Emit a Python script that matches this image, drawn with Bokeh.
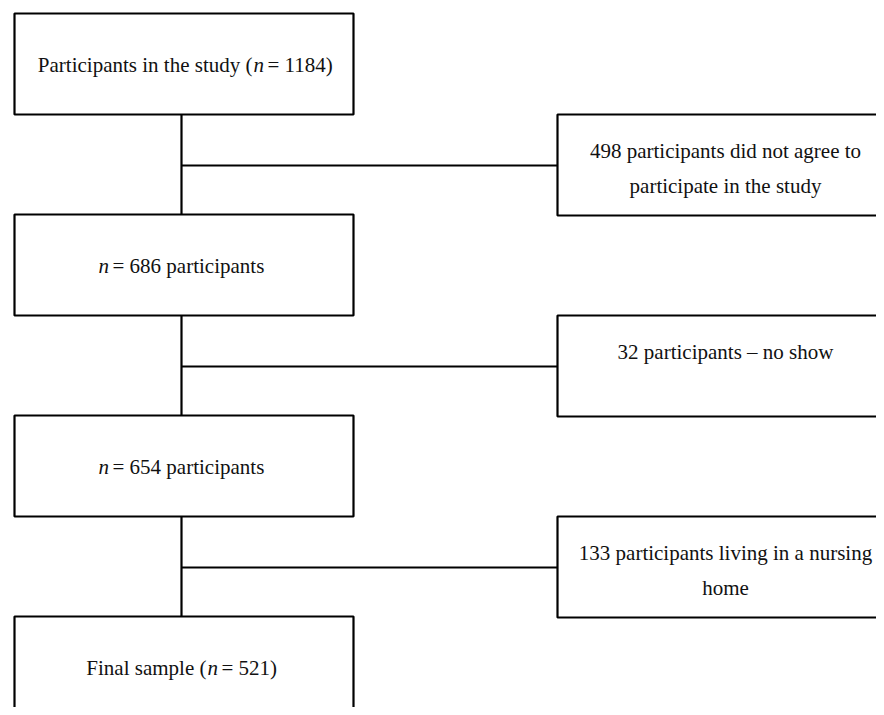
from bokeh.plotting import figure
from bokeh.models import Range1d
from bokeh.core.properties import value
from bokeh.embed import file_html
from bokeh.resources import INLINE

# ---- data ----
main_prefix = ["Participants in the study (", "", "", "Final sample ("]
main_suffix = ["= 1184)", "= 686 participants", "= 654 participants", "= 521)"]
counts = [1184, 686, 654, 521]
excluded_counts = [498, 32, 133]
excluded_lines = [
    ["498 participants did not agree to", "participate in the study"],
    ["32 participants \u2013 no show"],
    ["133 participants living in a nursing", "home"],
]

# ---- layout (pixel coords of the picture) ----
FONT = value("Liberation Serif")
FS = "21px"
main_left, main_right = 14, 353
main_tops = [13, 214, 415, 616]
box_h = 101
ex_left, ex_right = 557, 900
ex_tops = [114, 315, 516]
spine_x = 181
n_left = [253, 98, 98, 207]
eq_left = [267, 112, 112, 221]
ex_cx = 725
line_gap = 35
LW = 2.2
TC = "#111111"

p = figure(width=876, height=707, x_range=Range1d(0, 876), y_range=Range1d(707, 0),
           output_backend="svg", toolbar_location=None, min_border=0)
p.axis.visible = False
p.grid.visible = False
p.outline_line_color = None
p.background_fill_color = "white"

# connectors
for i in range(len(excluded_lines)):
    y0 = main_tops[i] + box_h
    y1 = main_tops[i + 1]
    p.segment(x0=[spine_x], y0=[y0], x1=[spine_x], y1=[y1], line_color="black", line_width=LW)
    ym = (y0 + y1) / 2 + 1
    p.segment(x0=[spine_x], y0=[ym], x1=[ex_left], y1=[ym], line_color="black", line_width=LW)

# main boxes
p.quad(left=[main_left] * 4, right=[main_right] * 4,
       top=main_tops, bottom=[t + box_h for t in main_tops],
       fill_color="white", line_color="black", line_width=LW)
# exclusion boxes
p.quad(left=[ex_left] * 3, right=[ex_right] * 3,
       top=ex_tops, bottom=[t + box_h for t in ex_tops],
       fill_color="white", line_color="black", line_width=LW)

# main texts with italic n
ys = [t + box_h / 2 + 1 for t in main_tops]
for i in range(4):
    y = ys[i]
    if main_prefix[i]:
        p.text(x=[n_left[i] - 1], y=[y], text=[main_prefix[i]], text_align="right",
               text_baseline="middle", text_font=FONT, text_font_size=FS, text_color=TC)
    p.text(x=[n_left[i]], y=[y], text=["n"], text_align="left", text_baseline="middle",
           text_font=FONT, text_font_size=FS, text_font_style="italic", text_color=TC)
    p.text(x=[eq_left[i]], y=[y], text=[main_suffix[i]], text_align="left",
           text_baseline="middle", text_font=FONT, text_font_size=FS, text_color=TC)

# exclusion texts
for i, lines in enumerate(excluded_lines):
    for j, ln in enumerate(lines):
        y = ex_tops[i] + 36 + j * line_gap
        p.text(x=[ex_cx], y=[y], text=[ln], text_align="center", text_baseline="middle",
               text_font=FONT, text_font_size=FS, text_color=TC)

open("out.html", "w").write(file_html(p, INLINE))
